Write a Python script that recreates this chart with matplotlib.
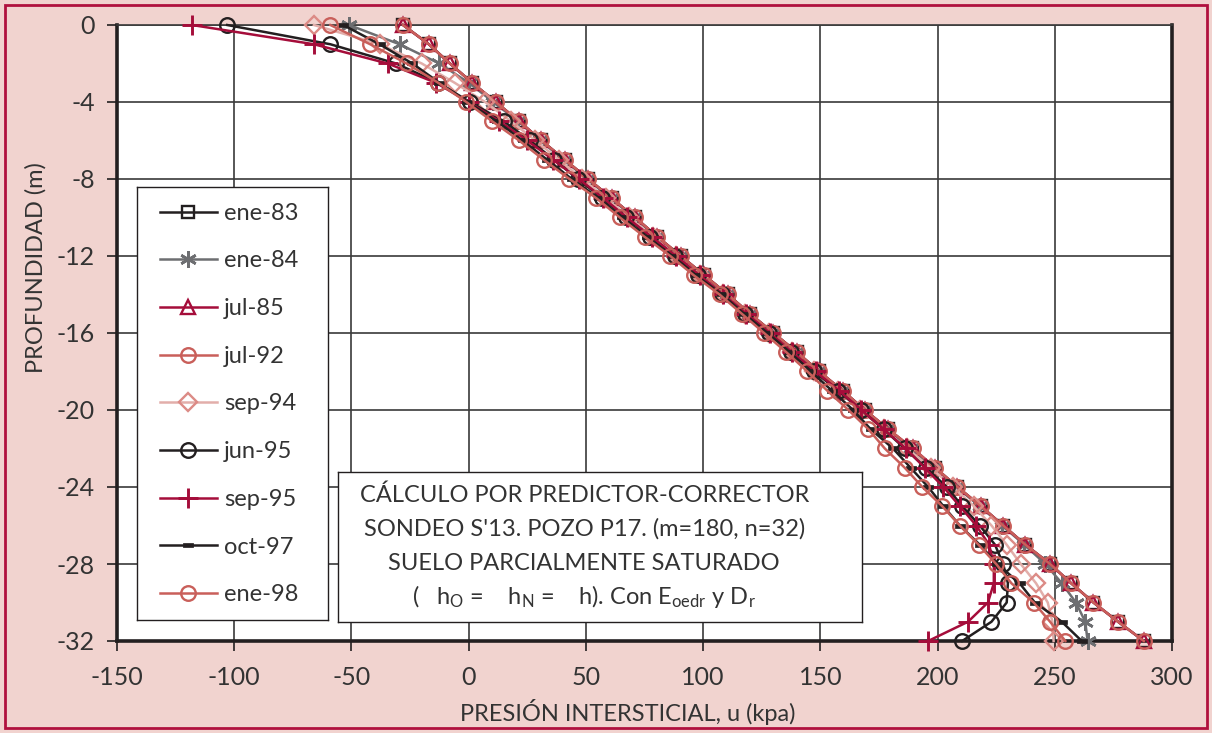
"""
plot.py — Presión intersticial vs profundidad, sondeo S'13 pozo P17.

Outputs:
    out.png
"""

import matplotlib
matplotlib.use("Agg")
import matplotlib.pyplot as plt

# ── Data ──────────────────────────────────────────────────────────────────────

DEPTH = [0, -1, -2, -3, -4, -5, -6, -7, -8, -9, -10, -11, -12, -13, -14, -15, -16,
         -17, -18, -19, -20, -21, -22, -23, -24, -25, -26, -27, -28, -29, -30, -31, -32]

ENE_83 = [-28, -17, -8, 1.5, 11.5, 21.5, 31, 41, 51, 61, 71, 80.5, 90.5, 100.5, 110.5, 120, 130,
          140, 149.5, 159.5, 169, 179, 189, 199, 208.5, 218.5, 228, 237.5, 248, 257, 266.5, 277, 288]
ENE_84 = [-51, -29.5, -12.5, 0, 10.5, 21, 30.5, 40.5, 50.5, 60.5, 70.5, 80, 90, 100, 110, 119.5, 129.5,
          139.5, 149, 159, 168.5, 178.5, 188.5, 198.5, 208, 218, 227.5, 237, 246, 253, 259, 263, 264]
JUL_85 = [-28, -17, -8, 1.5, 11.5, 21.5, 31, 41, 51, 61, 71, 80.5, 90.5, 100.5, 110.5, 120, 130,
          140, 149.5, 159.5, 169, 179, 189.5, 199, 208.5, 218.5, 228, 237.5, 248, 257, 266.5, 277, 288]
JUL_92 = [-28, -17, -8, 1.5, 11.5, 21.5, 31, 41, 51, 61, 71, 80.5, 90.5, 100.5, 110.5, 120, 130,
          140, 149.5, 159.5, 169, 179, 189.5, 199, 208.5, 218.5, 228, 237.5, 248, 257, 266.5, 277, 288]
SEP_94 = [-66, -38, -20, -6, 7, 18, 28.5, 38.5, 48.5, 58.5, 68.5, 78.5, 88.5, 98.5, 108.5, 118, 128,
          138, 147.5, 157.5, 167, 177, 187, 197, 206.5, 215.5, 223, 229.5, 235.5, 242, 247, 249, 249.5]
JUN_95 = [-103, -59, -31, -13, 0.5, 15, 26, 36.5, 46.5, 57, 67, 77.5, 88, 98, 108, 118, 128,
          137.5, 147.5, 157.5, 167.5, 177, 186, 195, 204, 210.5, 218, 224.5, 228, 230, 229.5, 223, 210.5]
SEP_95 = [-118, -66, -34.5, -14, 0, 13, 25, 36, 47, 57.5, 67.5, 78, 88.5, 98.5, 108.5, 118.5, 128.5,
          138, 148, 158, 167.5, 177, 186.5, 194.5, 202.5, 209.5, 216.5, 222, 224, 224, 221.5, 213, 196]
OCT_97 = [-53.5, -38, -24, -12.5, -0.5, 12, 23, 33.5, 44, 55.5, 65.5, 76, 87, 97, 108, 117.5, 127.5,
          137, 146, 155, 164, 171.5, 181, 188.5, 196, 202.5, 209.5, 218, 225.5, 235, 241.5, 253, 261.5]
ENE_98 = [-59, -42, -26.5, -13, -1, 10, 21.5, 32, 43, 54.5, 64.5, 75, 86, 96, 107, 116.5, 126,
          135.5, 144.5, 153, 162, 170.5, 177.5, 186, 193.5, 202, 209.5, 217.5, 225, 231.5, 241, 248, 254.5]

LABELS = ["ene-83", "ene-84", "jul-85", "jul-92", "sep-94", "jun-95", "sep-95", "oct-97", "ene-98"]
SERIES = [ENE_83, ENE_84, JUL_85, JUL_92, SEP_94, JUN_95, SEP_95, OCT_97, ENE_98]

X_TICKS = [-150, -100, -50, 0, 50, 100, 150, 200, 250, 300]
Y_TICKS = [0, -4, -8, -12, -16, -20, -24, -28, -32]

BOX_LINES = [
    "CÁLCULO POR PREDICTOR-CORRECTOR",
    "SONDEO S'13. POZO P17. (m=180, n=32)",
    "SUELO PARCIALMENTE SATURADO",
    r"(   h$_\mathrm{O}$ =    h$_\mathrm{N}$ =    h). Con E$_\mathrm{oedr}$ y D$_\mathrm{r}$",
]

# ── Style ─────────────────────────────────────────────────────────────────────

BG      = "#f1d3cf"
BORDER  = "#b0103e"
BLACK   = "#231f20"
TEXT    = "#333333"
GRAY    = "#6d6e71"
CRIMSON = "#a50d3a"
SALMON  = "#c95f5a"
LSALMON = "#dc8b86"
LLINE   = "#e2aeaa"
GRID    = "#3a3a3a"
FONT    = "Lato"

DASH = [(-1, -0.42), (1, -0.42), (1, 0.42), (-1, 0.42), (-1, -0.42)]
ASTER = (6, 2, 0)

STYLES = [
    dict(color=BLACK,   marker="s",   ms=9,   mfc="none", mec=BLACK),
    dict(color=GRAY,    marker=ASTER, ms=12,  mfc="none", mec=GRAY, mew=1.9),
    dict(color=CRIMSON, marker="^",   ms=10.5, mfc="none", mec=CRIMSON),
    dict(color=SALMON,  marker="o",   ms=10.5, mfc="none", mec=SALMON),
    dict(color=LLINE,   marker="D",   ms=9,   mfc="none", mec=LSALMON),
    dict(color=BLACK,   marker="o",   ms=10.5, mfc="none", mec=BLACK),
    dict(color=CRIMSON, marker="+",   ms=14,  mfc="none", mec=CRIMSON, mew=2.1),
    dict(color=BLACK,   marker=DASH,  ms=7.5, mfc=BLACK,  mec=BLACK, mew=0.5),
    dict(color=SALMON,  marker="o",   ms=10.5, mfc="none", mec=SALMON),
]

plt.rcParams["font.family"] = [FONT, "DejaVu Sans"]
plt.rcParams["axes.unicode_minus"] = False
plt.rcParams["mathtext.fontset"] = "custom"
plt.rcParams["mathtext.rm"] = FONT
plt.rcParams["mathtext.it"] = FONT

# ── Figure ────────────────────────────────────────────────────────────────────

W, H = 1212, 733
fig = plt.figure(figsize=(W / 100, H / 100), dpi=100)
fig.patch.set_facecolor(BG)

# crimson outer frame
fig.add_artist(plt.Rectangle((5 / W, 5 / H), 1 - 10 / W, 1 - 10 / H,
                             transform=fig.transFigure, fill=False,
                             edgecolor=BORDER, linewidth=2))

L, R, T, B = 117, 1172, 25, 641
ax = fig.add_axes([L / W, (H - B) / H, (R - L) / W, (B - T) / H])
ax.set_facecolor("white")

lines = []
for vals, lab, st in zip(SERIES, LABELS, STYLES):
    ln, = ax.plot(vals, DEPTH, label=lab, linewidth=1.8,
                  markeredgewidth=st.pop("mew", 1.7), **st, zorder=3, clip_on=False)
    lines.append(ln)

ax.set_xlim(-150, 300)
ax.set_ylim(-32, 0)
ax.set_xticks(X_TICKS)
ax.set_yticks(Y_TICKS)
ax.set_xticklabels([str(v) for v in X_TICKS])
ax.set_yticklabels([str(v) for v in Y_TICKS])
ax.tick_params(direction="out", length=7, width=1.2, colors=BLACK,
               labelcolor=TEXT, labelsize=18)
ax.tick_params(axis="x", pad=11)
ax.tick_params(axis="y", pad=9)
ax.grid(True, color=GRID, linewidth=1.2, zorder=0)
ax.set_axisbelow(True)
for side in ["left", "bottom", "right"]:
    ax.spines[side].set_linewidth(2.6)
    ax.spines[side].set_color(BLACK)
ax.spines["top"].set_linewidth(1.2)
ax.spines["top"].set_color(GRID)

fig.text(628 / W, 1 - 712 / H, "PRESIÓN INTERSTICIAL, u (kpa)", fontsize=17,
         color=TEXT, ha="center", va="center")
fig.text(36 / W, 1 - 268 / H, "PROFUNDIDAD (m)", rotation=90, fontsize=17,
         color=TEXT, ha="center", va="center")

# ── Legend ────────────────────────────────────────────────────────────────────

lx0, ly0, lx1, ly1 = 137, 187, 328, 620
frame = fig.add_axes([lx0 / W, (H - ly1) / H, (lx1 - lx0) / W, (ly1 - ly0) / H])
frame.set_xticks([])
frame.set_yticks([])
frame.set_facecolor("white")
for sp in frame.spines.values():
    sp.set_linewidth(1.0)
    sp.set_color(BLACK)
frame.set_zorder(5)

leg = frame.legend(handles=lines, loc="center left",
                   bbox_to_anchor=((160 - lx0) / (lx1 - lx0), 1 - (404 - ly0) / (ly1 - ly0)),
                   fontsize=17, frameon=False, handlelength=2.4, handletextpad=0.3,
                   labelspacing=1.13, borderpad=0, borderaxespad=0, labelcolor=TEXT)

# ── Text box ──────────────────────────────────────────────────────────────────

bx0, by0, bx1, by1 = 338, 472, 862, 622
box = fig.add_axes([bx0 / W, (H - by1) / H, (bx1 - bx0) / W, (by1 - by0) / H])
box.set_xticks([])
box.set_yticks([])
box.set_facecolor("white")
for sp in box.spines.values():
    sp.set_linewidth(1.0)
    sp.set_color(BLACK)
box.set_zorder(6)
for i, line in enumerate(BOX_LINES):
    box.text(0.47, 1 - (23 + 34 * i) / (by1 - by0), line, ha="center", va="center",
             fontsize=17, color=TEXT, transform=box.transAxes)

fig.savefig("out.png", dpi=100, facecolor=BG)
